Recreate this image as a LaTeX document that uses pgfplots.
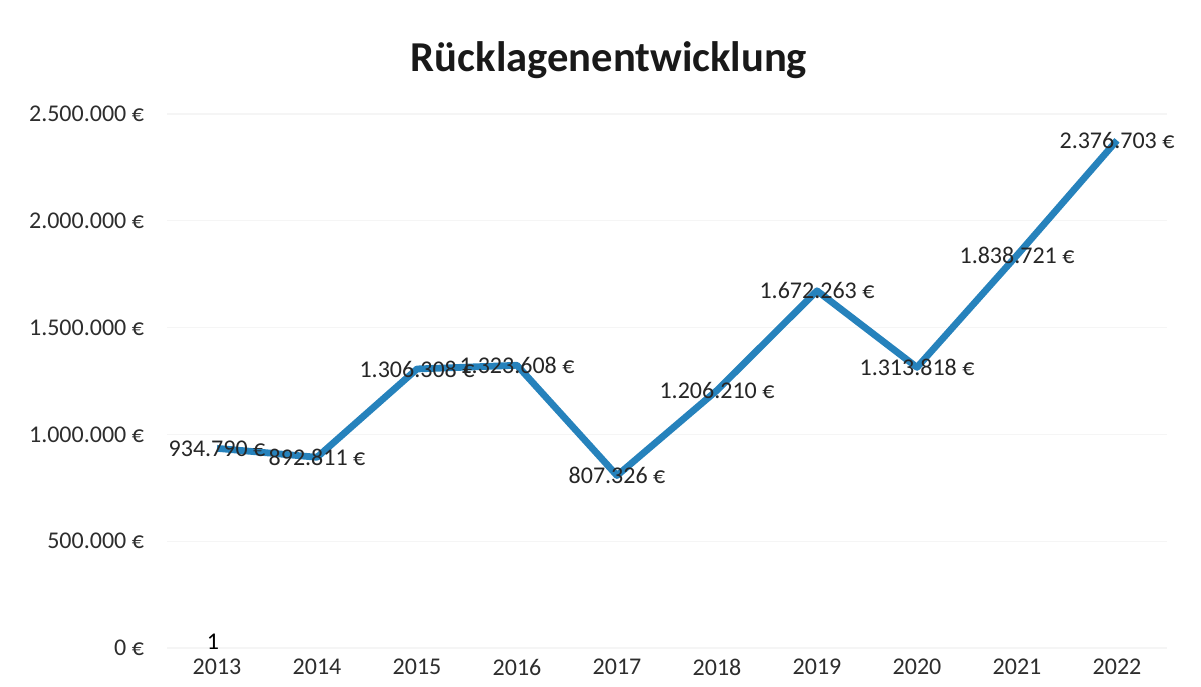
\documentclass[border=0pt]{standalone}
\usepackage{pgfplots}
\pgfplotsset{compat=1.18}
\usepackage{fontspec}
\setmainfont{Carlito}
\definecolor{linecol}{RGB}{38,130,188}
\definecolor{txt}{RGB}{45,45,45}
\begin{document}
\begin{tikzpicture}
\useasboundingbox (-83.5bp,-19.5bp) rectangle (517bp,324bp);
\begin{axis}[
  scale only axis,
  width=500bp, height=267bp,
  xmin=-0.5, xmax=9.5,
  ymin=0, ymax=2500000,
  axis line style={draw=none},
  major tick length=0pt,
  xtick={0,...,9},
  xticklabels={2013,2014,2015,2016,2017,2018,2019,2020,2021,2022},
  ytick={0,500000,1000000,1500000,2000000,2500000},
  yticklabels={0 €,500.000 €,1.000.000 €,1.500.000 €,2.000.000 €,2.500.000 €},
  ymajorgrids, grid style={draw=black!4, line width=0.6bp},
  tick label style={font=\fontsize{12bp}{14bp}\selectfont, text=txt},
  yticklabel style={xshift=-8bp},
  xticklabel style={yshift=-2bp},
  scaled y ticks=false,
  clip=false,
]
\addplot[draw=none, nodes near coords, point meta=explicit symbolic,
  every node near coord/.style={anchor=center, font=\fontsize{12bp}{14bp}\selectfont, text=black!85}]
  table[meta=lab] {
x y lab
0 934790 934.790~€
1 892811 892.811~€
2 1306308 1.306.308~€
3 1323608 1.323.608~€
4 807326 807.326~€
5 1206210 1.206.210~€
6 1672263 1.672.263~€
7 1313818 1.313.818~€
8 1838721 1.838.721~€
9 2376703 2.376.703~€
};
\addplot[color=linecol, line width=3.4bp, line join=round, mark=none] coordinates {
(0,934790) (1,892811) (2,1306308) (3,1323608) (4,807326)
(5,1206210) (6,1672263) (7,1313818) (8,1838721) (9,2376703)};
\node[font=\fontsize{12bp}{14bp}\selectfont, text=black] at (axis cs:-0.04,28000) {1};
\end{axis}
\node[font=\fontsize{21.3bp}{24bp}\selectfont\bfseries, text=black!90] at (221bp,294bp) {Rücklagenentwicklung};
\end{tikzpicture}
\end{document}
